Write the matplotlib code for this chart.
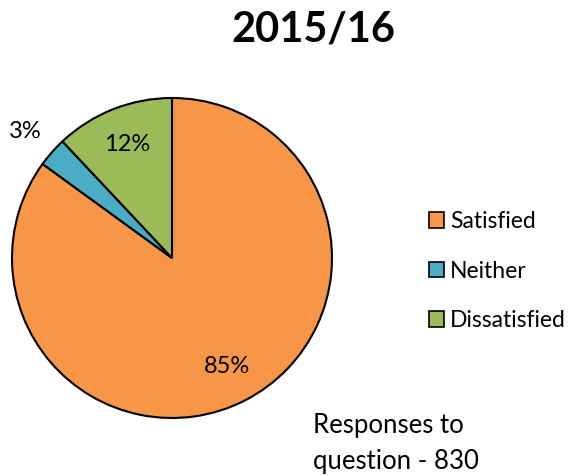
import numpy as np
import matplotlib.pyplot as plt
from matplotlib.patches import Patch

labels = ['Satisfied', 'Neither', 'Dissatisfied']
values = [85, 3, 12]
colors = ['#F79646', '#4BACC6', '#9BBB59']

plt.rcParams['font.family'] = ['Lato', 'DejaVu Sans']

fig = plt.figure(figsize=(5.71, 4.76), dpi=100)
ax = fig.add_axes([12 / 571, 58 / 476, 320 / 571, 320 / 476])

wedges, texts, autotexts = ax.pie(values, colors=colors, startangle=90, counterclock=False,
                                  autopct='%d%%', pctdistance=0.76,
                                  wedgeprops=dict(edgecolor='black', linewidth=1.5),
                                  textprops=dict(fontsize=17))
# small slice label goes outside
for w, t in zip(wedges, autotexts):
    if abs(w.theta2 - w.theta1) < 15:
        ang = np.deg2rad((w.theta1 + w.theta2) / 2)
        t.set_position((1.22 * np.cos(ang), 1.2 * np.sin(ang)))
ax.set_xlim(-1, 1)
ax.set_ylim(-1, 1)
ax.set_aspect('equal')

fig.text(313 / 571, 1 - 29 / 476, '2015/16', fontsize=30, fontweight='bold',
         ha='center', va='center')

handles = [Patch(facecolor=c, edgecolor='black', linewidth=1.2) for c in colors]
fig.legend(handles, labels, loc='center left', bbox_to_anchor=(420 / 571, 1 - 271 / 476),
           frameon=False, fontsize=16.5, handlelength=0.65, handleheight=0.65,
           handletextpad=0.25, labelspacing=1.24, borderaxespad=0)

fig.text(313 / 571, 1 - 426 / 476, 'Responses to', fontsize=18.5, va='center')
fig.text(313 / 571, 1 - 461 / 476, 'question - 830', fontsize=18.5, va='center')

fig.savefig('out.png', dpi=100)
